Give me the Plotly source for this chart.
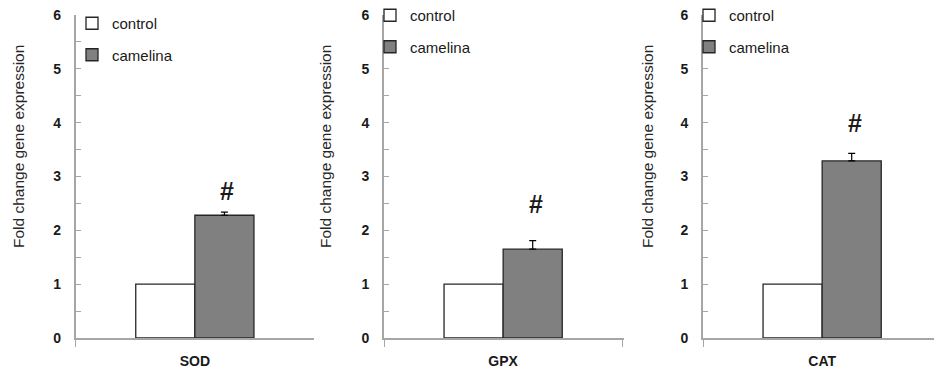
import plotly.graph_objects as go

W, H = 934, 373

genes = ["SOD", "GPX", "CAT"]
groups = ["control", "camelina"]
control_vals = [1.0, 1.0, 1.0]
camelina_vals = [2.28, 1.65, 3.29]
camelina_err = [0.06, 0.16, 0.14]
sig_marks = ["#", "#", "#"]
sig_label_y = [2.74, 2.49, 3.99]
y_ticks = [0, 1, 2, 3, 4, 5, 6]
y_title = "Fold change gene expression"

# panel geometry in pixels
x_domains_px = [(75.7, 314.0), (384.0, 624.0), (703.0, 934.0)]
cat_width_px = 238.3
y_bottom_px, y_top_px = 338.0, 15.0
title_x_px = [18, 325, 647]
title_y_px = 147
legend_pos_px = [(72, 7), (370, -1), (689, -1)]

AXIS_GREY = "#a6a6a6"
BAR_EDGE = "#262626"
FONT = "Liberation Sans, Arial, sans-serif"

fig = go.Figure()

for i, gene in enumerate(genes):
    n = i + 1
    xa = "x" if n == 1 else f"x{n}"
    ya = "y" if n == 1 else f"y{n}"
    lg = "legend" if n == 1 else f"legend{n}"
    fig.add_trace(go.Bar(
        x=[gene], y=[control_vals[i]], name=groups[0],
        marker=dict(color="white", line=dict(color=BAR_EDGE, width=1.3)),
        xaxis=xa, yaxis=ya, legend=lg, legendgroup=f"c{n}",
        offsetgroup="a",
    ))
    fig.add_trace(go.Bar(
        x=[gene], y=[camelina_vals[i]], name=groups[1],
        marker=dict(color="#808080", line=dict(color=BAR_EDGE, width=1.3)),
        error_y=dict(type="data", array=[camelina_err[i]], arrayminus=[0],
                     symmetric=False, color="black", thickness=1.2, width=3.5),
        xaxis=xa, yaxis=ya, legend=lg, legendgroup=f"m{n}",
        offsetgroup="b",
    ))

layout = dict(
    width=W, height=H,
    margin=dict(l=0, r=0, t=0, b=0, autoexpand=False),
    paper_bgcolor="white", plot_bgcolor="white",
    barmode="group", bargap=0.504, bargroupgap=0,
    font=dict(family=FONT, color="#1a1a1a"),
    annotations=[],
)

ydom = [(H - y_bottom_px) / H, (H - y_top_px) / H]
for i, gene in enumerate(genes):
    n = i + 1
    key_x = "xaxis" if n == 1 else f"xaxis{n}"
    key_y = "yaxis" if n == 1 else f"yaxis{n}"
    x0, x1 = x_domains_px[i]
    width_px = x1 - x0
    xr_hi = -0.5 + width_px / cat_width_px
    layout[key_x] = dict(
        domain=[x0 / W, x1 / W], range=[-0.5, xr_hi],
        type="category", anchor="y" if n == 1 else f"y{n}",
        showline=True, linecolor=AXIS_GREY, linewidth=1.6,
        ticks="outside", tickson="boundaries", ticklen=7, tickwidth=1.3,
        tickcolor=AXIS_GREY, showgrid=False, zeroline=False,
        tickfont=dict(size=14, weight="bold", color="#1a1a1a"),
        ticklabelstandoff=9, automargin=False,
        fixedrange=True,
    )
    layout[key_y] = dict(
        domain=ydom, range=[0, 6], anchor="x" if n == 1 else f"x{n}",
        tickvals=y_ticks, showline=True, linecolor=AXIS_GREY, linewidth=1.6,
        ticks="inside", ticklen=5, tickwidth=1.3, tickcolor=AXIS_GREY,
        minor=dict(dtick=0.5, ticks="inside", ticklen=5, tickwidth=1.3,
                   tickcolor=AXIS_GREY, showgrid=False),
        showgrid=False, zeroline=False,
        tickfont=dict(size=14, weight="bold", color="#1a1a1a"),
        ticklabelstandoff=10, automargin=False,
        fixedrange=True,
    )
    lx, ly = legend_pos_px[i]
    key_l = "legend" if n == 1 else f"legend{n}"
    layout[key_l] = dict(
        x=lx / W, y=1 - ly / H, xanchor="left", yanchor="top",
        bgcolor="rgba(0,0,0,0)", borderwidth=0,
        font=dict(size=15, family=FONT, color="#1a1a1a"),
        tracegroupgap=9, itemclick=False, itemdoubleclick=False,
    )
    layout["annotations"].append(dict(
        text=y_title, textangle=-90, showarrow=False,
        xref="paper", yref="paper", x=title_x_px[i] / W, y=1 - title_y_px / H,
        xanchor="center", yanchor="middle",
        font=dict(size=15.5, family=FONT, color="#262626"),
    ))
    layout["annotations"].append(dict(
        text=sig_marks[i], showarrow=False,
        xref="x" if n == 1 else f"x{n}", yref="y" if n == 1 else f"y{n}",
        x=(1 - 0.504) / 4, y=sig_label_y[i], xshift=3,
        xanchor="center", yanchor="middle",
        font=dict(size=25, family=FONT, color="#1a1a1a", weight="bold"),
    ))

layout["showlegend"] = True
fig.update_layout(**layout)
fig.write_html("out.html")
